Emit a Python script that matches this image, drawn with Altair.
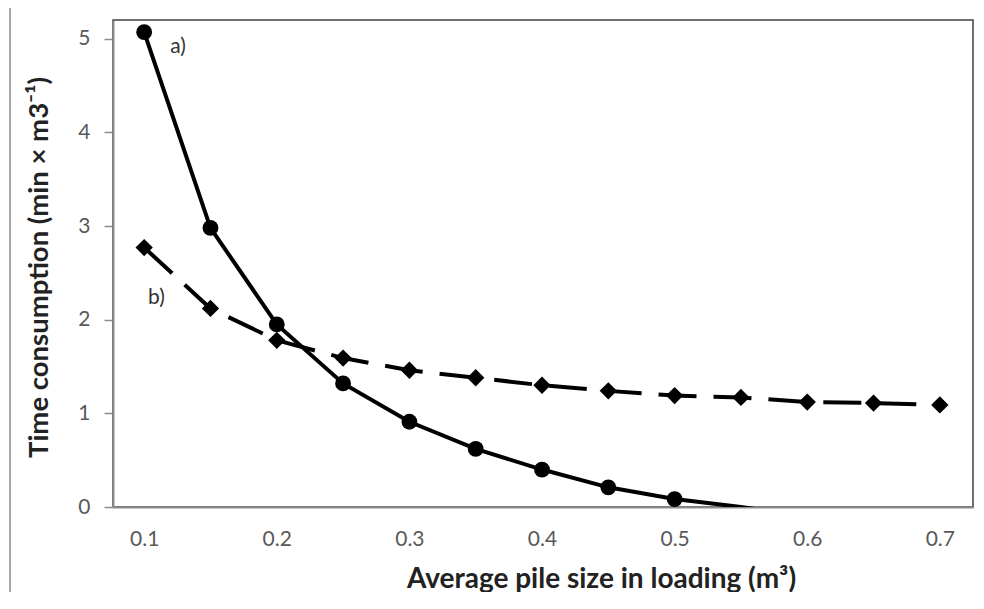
import altair as alt
import pandas as pd

# Data
pile_size = [0.10, 0.15, 0.20, 0.25, 0.30, 0.35, 0.40, 0.45, 0.50, 0.55, 0.60, 0.65, 0.70]
series_a = [5.07, 2.98, 1.95, 1.32, 0.91, 0.62, 0.40, 0.21, 0.085, 0.0, -0.10]
series_b = [2.77, 2.12, 1.78, 1.59, 1.46, 1.38, 1.30, 1.24, 1.19, 1.17, 1.12, 1.11, 1.09]
x_ticks = [0.1, 0.2, 0.3, 0.4, 0.5, 0.6, 0.7]
y_ticks = [0, 1, 2, 3, 4, 5]
label_text = ["a)", "b)"]
label_x = [0.1196, 0.1029]
label_y = [4.915, 2.23]

FONT = "Lato"

df_a = pd.DataFrame({"x": pile_size[:len(series_a)], "y": series_a})
df_b = pd.DataFrame({"x": pile_size, "y": series_b})
df_lab = pd.DataFrame({"x": label_x, "y": label_y, "t": label_text})

xscale = alt.Scale(domain=[0.0765, 0.725], nice=False, zero=False)
yscale = alt.Scale(domain=[0, 5.2], nice=False)

xaxis = alt.Axis(
    values=x_ticks, format=".1f", title="Average pile size in loading (m³)",
    grid=False, ticks=False, domainColor="#8c8c8c", domainWidth=2,
    labelFont=FONT, labelFontSize=21, labelColor="#595959", labelPadding=21,
    titleFont=FONT, titleFontSize=28, titleFontWeight="bold", titleColor="#222222",
    titlePadding=16, titleX=488, titleAlign="center",
)
yaxis = alt.Axis(
    values=y_ticks, format="d", title="Time consumption (min × m3⁻¹)",
    grid=False, tickSize=9, tickColor="#8c8c8c", tickWidth=1.5,
    domainColor="#8c8c8c", domainWidth=2,
    labelFont=FONT, labelFontSize=21, labelColor="#595959", labelPadding=14,
    titleFont=FONT, titleFontSize=27.5, titleFontWeight="bold", titleColor="#222222",
    titleX=-60, titleY=247, titleAngle=-90, titleBaseline="bottom", titleAlign="center",
)

X = alt.X("x:Q", scale=xscale, axis=xaxis)
Y = alt.Y("y:Q", scale=yscale, axis=yaxis)

line_a = alt.Chart(df_a).mark_line(color="black", strokeWidth=4, clip=True).encode(x=X, y=Y)
pts_a = alt.Chart(df_a).transform_filter("datum.y > 0").mark_point(
    shape="circle", filled=True, color="black", size=250, opacity=1
).encode(x=X, y=Y)

line_b = alt.Chart(df_b).mark_line(
    color="black", strokeWidth=4, strokeDash=[38, 17], clip=True
).encode(x=X, y=Y)
pts_b = alt.Chart(df_b).mark_point(
    shape="diamond", filled=True, color="black", size=300, opacity=1
).encode(x=X, y=Y)

labels = alt.Chart(df_lab).mark_text(
    align="left", baseline="middle", font=FONT, fontSize=21, color="#333333"
).encode(x=X, y=Y, text="t:N")

frame_left = alt.Chart(df_lab).mark_rule(color="#a6a6a6", strokeWidth=2).encode(
    x=alt.value(-103), y=alt.value(-15), y2=alt.value(600)
)
frame_top = alt.Chart(df_lab).mark_rule(color="#a6a6a6", strokeWidth=2).encode(
    x=alt.value(-103), x2=alt.value(880), y=alt.value(-15)
)

chart = alt.layer(
    frame_left, frame_top, line_b, line_a, pts_b, pts_a, labels
).properties(
    width=860, height=487,
    autosize=alt.AutoSizeParams(type="none"),
    padding={"left": 105, "top": 12, "right": 3, "bottom": 85},
).configure_view(
    stroke="#404040", strokeWidth=1.5
)

chart.save("out.html", embed_options={"renderer": "svg", "actions": False})
